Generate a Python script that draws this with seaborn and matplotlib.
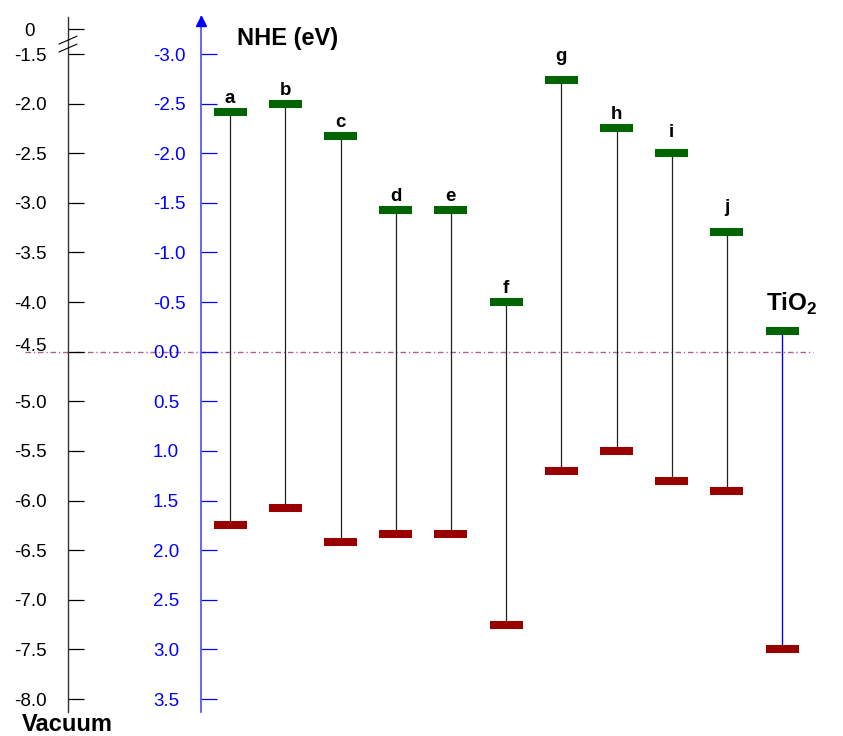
import matplotlib
matplotlib.use("Agg")
import matplotlib.pyplot as plt
import matplotlib.transforms as mtransforms
import seaborn as sns
import pandas as pd

# ---------------- data (energies on the vacuum scale, eV) ----------------
materials = ["a", "b", "c", "d", "e", "f", "g", "h", "i", "j", "TiO2"]
lumo_vac = [-2.08, -2.00, -2.33, -3.07, -3.07, -4.00, -1.76, -2.25, -2.50, -3.29, -4.29]
homo_vac = [-6.25, -6.08, -6.42, -6.34, -6.34, -7.25, -5.70, -5.50, -5.80, -5.90, -7.50]

vac_ticks = [-1.5, -2.0, -2.5, -3.0, -3.5, -4.0, -4.5, -5.0, -5.5, -6.0, -6.5, -7.0, -7.5, -8.0]
vac_tick_labels = ["-1.5", "-2.0", "-2.5", "-3.0", "-3.5", "-4.0", "-4.5", "-5.0",
                   "-5.5", "-6.0", "-6.5", "-7.0", "-7.5", "-8.0"]
nhe_ticks = [-3.0, -2.5, -2.0, -1.5, -1.0, -0.5, 0.0, 0.5, 1.0, 1.5, 2.0, 2.5, 3.0, 3.5]
nhe_tick_labels = ["-3.0", "-2.5", "-2.0", "-1.5", "-1.0", "-0.5", "0.0", "0.5",
                   "1.0", "1.5", "2.0", "2.5", "3.0", "3.5"]
nhe_zero_vac = -4.5          # NHE 0 V on the vacuum scale
break_label = "0"            # label of the vacuum level above the axis break

# ---------------- layout / style ----------------
W, H = 843, 736
AX_L, AX_B, AX_W, AX_H = 68, 24, 775, 695   # axes box in pixels
break_tick_pos = -1.25                     # where the "0" label sits above the break
label_gap_pt = {"g": 13.7, "i": 11.5, "j": 14.4, "TiO2": 14.4}
GREEN, RED, BLUE = "#006400", "#990000", "#0000ff"

sns.set_theme(style="white")
plt.rcParams["font.family"] = ["Liberation Sans", "DejaVu Sans"]
plt.rcParams["axes.unicode_minus"] = False
plt.rcParams["mathtext.fontset"] = "custom"
plt.rcParams["mathtext.rm"] = "Liberation Sans"
plt.rcParams["mathtext.bf"] = "Liberation Sans:bold"

n = len(materials)
df = pd.DataFrame({
    "material": materials * 2,
    "level": ["LUMO"] * n + ["HOMO"] * n,
    "energy": lumo_vac + homo_vac,
})

fig = plt.figure(figsize=(W / 100, H / 100), dpi=100)
ax = fig.add_axes([AX_L / W, AX_B / H, AX_W / W, AX_H / H])

sns.scatterplot(data=df, x="material", y="energy", hue="level",
                palette={"LUMO": GREEN, "HOMO": RED}, marker="_", s=566,
                linewidth=5.8, legend=False, zorder=3, ax=ax)

# connectors between the two levels
ax.vlines(materials[:-1], homo_vac[:-1], lumo_vac[:-1], colors="#222222",
          linewidth=0.9, zorder=1)
ax.vlines(materials[-1:], homo_vac[-1:], lumo_vac[-1:], colors=BLUE,
          linewidth=1.0, zorder=1)

ax.set_xlim(-2.937, 11.103)
ax.set_ylim(-8.131, -1.127)
ax.set_xlabel("")
ax.set_ylabel("")
ax.set_xticks([])

for side in ["top", "right", "bottom"]:
    ax.spines[side].set_visible(False)
ax.spines["left"].set_color("#333333")
ax.spines["left"].set_linewidth(1.0)

# NHE reference line (vacuum -4.5 eV)
ax.axhline(nhe_zero_vac, xmin=(25 - AX_L) / AX_W, xmax=(813 - AX_L) / AX_W,
           color="#b0608f", linewidth=1.0, dashes=(4, 2, 1, 2), clip_on=False, zorder=0)

# level labels
for name, e in zip(materials, lumo_vac):
    gap = label_gap_pt.get(name, 6.5)
    if name == "TiO2":
        ax.annotate(r"TiO$_\mathbf{2}$", (name, e), xytext=(7, gap),
                    textcoords="offset points", ha="center", va="baseline",
                    fontsize=17.5, fontweight="bold", color="black")
    else:
        ax.annotate(name, (name, e), xytext=(0, gap), textcoords="offset points",
                    ha="center", va="baseline", fontsize=13.5,
                    fontweight="bold", color="black")

# vacuum axis ticks
ax.set_yticks([break_tick_pos] + vac_ticks, labels=[break_label] + vac_tick_labels)
ax.tick_params(axis="y", which="major", direction="in", length=11.5, width=0.9,
               color="black", labelcolor="black", labelsize=13.5, pad=27.4, left=True)
for lab in ax.get_yticklabels():
    lab.set_horizontalalignment("center")
    if lab.get_text() == "-4.5":
        lab.set_transform(lab.get_transform() +
                          mtransforms.ScaledTranslation(0, 5 / 72, fig.dpi_scale_trans))

# axis break marks
ytr = ax.get_yaxis_transform()
for y0 in (-1.40, -1.48):
    ax.plot([-0.0116, 0.0116], [y0, y0 + 0.08], color="black", linewidth=0.8,
            transform=ytr, clip_on=False, zorder=5)


# NHE axis
def vac_to_nhe(v):
    return nhe_zero_vac - v


nhe_x = (201 - AX_L) / AX_W
sec = ax.secondary_yaxis(nhe_x, functions=(vac_to_nhe, vac_to_nhe))
sec.set_yticks(nhe_ticks, labels=nhe_tick_labels)
sec.tick_params(axis="y", direction="in", length=11.5, width=0.9, color=BLUE,
                labelcolor=BLUE, labelsize=13.5, pad=34.6, left=True)
sec.spines["left"].set_color("#4a4aff")
sec.spines["left"].set_linewidth(1.2)
for lab in sec.get_yticklabels():
    lab.set_horizontalalignment("left")
for t, val in zip(sec.yaxis.get_major_ticks(), nhe_ticks):
    if val <= -2.0:
        t.tick1line.set_color("black")

# arrow head on NHE axis
ax.plot([nhe_x], [(AX_H - 4) / AX_H], marker="^", color=BLUE, markersize=7,
        transform=ax.transAxes, clip_on=False, zorder=6)

fig.text(237 / W, 1 - 45 / H, "NHE (eV)", ha="left", va="baseline",
         fontsize=17, fontweight="bold", color="black")
fig.text(22 / W, 1 - 731 / H, "Vacuum", ha="left", va="baseline",
         fontsize=17, fontweight="bold", color="black")

fig.savefig("out.png", dpi=100)
